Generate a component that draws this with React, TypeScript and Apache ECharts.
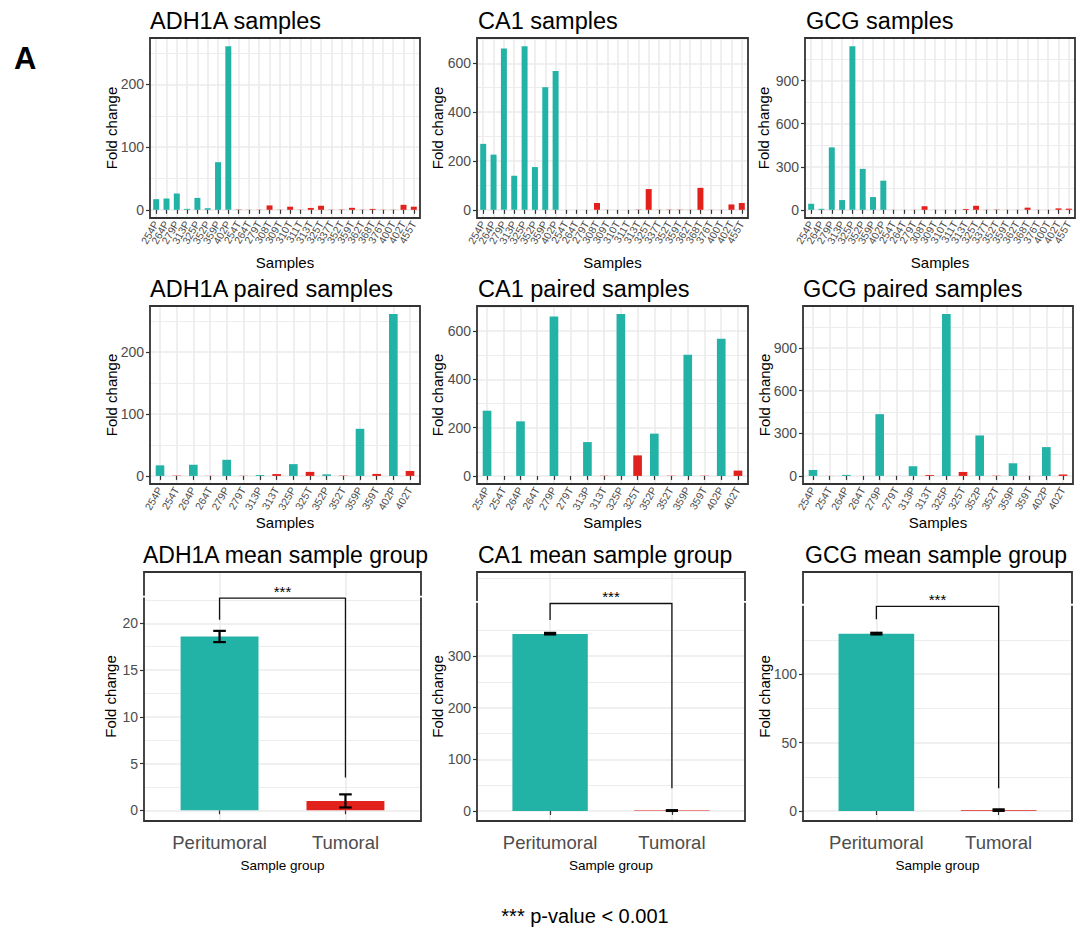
import React, { useEffect, useRef } from "react";
import * as echarts from "echarts";

// ---------- data ----------
const sampleCats = [
  "254P", "264P", "279P", "313P", "325P", "352P", "359P", "402P",
  "254T", "264T", "279T", "308T", "309T", "310T", "311T", "313T", "325T",
  "337T", "352T", "359T", "362T", "368T", "376T", "400T", "402T", "455T",
];
const adh1aSamples = [17, 18, 26, 1.5, 19, 2.5, 76, 261, 0.5, 0.2, 0.3, 7, 0.3, 5, 0.3, 3, 6.5, 0.3, 0.5, 3.2, 0.3, 1.5, 0.3, 0.3, 8, 5];
const ca1Samples = [270, 226, 660, 140, 670, 175, 502, 568, 0, 0, 0, 28, 0.5, 0, 0, 1, 85, 0.5, 1, 1, 0.5, 90, 0.5, 0.3, 22, 28];
const gcgSamples = [42, 7, 435, 68, 1140, 285, 89, 203, 0.5, 0.3, 0.5, 25, 0.5, 0.5, 0.3, 6, 28, 1, 2, 0.5, 0.5, 15, 0.5, 0.5, 10, 8];

const pairedCats = [
  "254P", "254T", "264P", "264T", "279P", "279T", "313P", "313T",
  "325P", "325T", "352P", "352T", "359P", "359T", "402P", "402T",
];

const groupCats = ["Peritumoral", "Tumoral"];
const adh1aMean = [18.6, 1.0];
const adh1aLow = [18.0, 0.3];
const adh1aHigh = [19.2, 1.7];
const ca1Mean = [343, 0.8];
const ca1Low = [342, 0];
const ca1High = [345, 1.5];
const gcgMean = [129.5, 0.6];
const gcgLow = [129, 0.1];
const gcgHigh = [130.2, 1.2];

// bracket: [left leg bottom, bar height, right leg bottom]
const adh1aBracket = [20.4, 22.7, 3.5];
const ca1Bracket = [370, 402, 44];
const gcgBracket = [140, 149.5, 16.6];
const signifText = "***";

// y-axis ticks
const adh1aTicks = [0, 100, 200];
const adh1aMinor = [50, 150, 250];
const ca1Ticks = [0, 200, 400, 600];
const ca1Minor = [100, 300, 500, 700];
const gcgTicks = [0, 300, 600, 900];
const gcgMinor = [150, 450, 750, 1050];
const adh1aMeanTicks = [0, 5, 10, 15, 20];
const adh1aMeanMinor = [2.5, 7.5, 12.5, 17.5, 22.5];
const ca1MeanTicks = [0, 100, 200, 300];
const ca1MeanMinor = [50, 150, 250, 350, 450];
const gcgMeanTicks = [0, 50, 100];
const gcgMeanMinor = [25, 75, 125];
const adh1aMeanRange = [-1.15, 25.5];
const ca1MeanRange = [-19.5, 463];
const gcgMeanRange = [-7.3, 174.6];

const footnote = "*** p-value < 0.001";
const panelLetter = "A";

// ---------- styles ----------
const FONT = "'Liberation Sans', Arial, Helvetica, sans-serif";
const TEAL = "#22B2A6";
const RED = "#E3211C";
const GRID = "#EBEBEB";
const AXIS = "#333333";
const LABEL = "#4D4D4D";

const lookup = (vals: number[], name: string) => vals[sampleCats.indexOf(name)];

type Panel = {
  title: string;
  cats: string[];
  values: number[];
  colors: string[];
  majors: number[];
  minors: number[];
  yMin: number;
  yMax: number;
  left: number;
  top: number;
  width: number;
  height: number;
  nameCx: number;
  titleLeft: number;
  titleTop: number;
  titleSize: number;
  xName: string;
  xNameGap: number;
  xNameSize: number;
  rot: number;
  xLabelSize: number;
  xLabelMargin: number;
  barFrac: number;
  low?: number[];
  high?: number[];
  bracket?: number[];
};

function samplePanel(title: string, cats: string[], values: number[], majors: number[], minors: number[], lay: any): Panel {
  const mx = Math.max(...values);
  return {
    title, cats, values,
    colors: cats.map((c) => (c.endsWith("P") ? TEAL : RED)),
    majors, minors,
    yMin: -0.05 * mx, yMax: 1.05 * mx,
    xName: "Samples", rot: 60, xLabelSize: 10.5, xLabelMargin: 4, xNameSize: 15,
    titleSize: 23.5,
    ...lay,
  };
}

function meanPanel(title: string, values: number[], low: number[], high: number[], bracket: number[], majors: number[], minors: number[], range: number[], lay: any): Panel {
  return {
    title, cats: groupCats, values, low, high, bracket,
    colors: [TEAL, RED],
    majors, minors, yMin: range[0], yMax: range[1],
    xName: "Sample group", xNameGap: 37.5, xNameSize: 13.5,
    rot: 0, xLabelSize: 18.5, xLabelMargin: 12, barFrac: 0.9,
    titleSize: 23,
    ...lay,
  };
}

const panels: Panel[] = [
  samplePanel("ADH1A samples", sampleCats, adh1aSamples, adh1aTicks, adh1aMinor,
    { left: 150, top: 38, width: 270, height: 180, nameCx: 111, titleLeft: 150, titleTop: 9, xNameGap: 36.5, barFrac: 0.6 }),
  samplePanel("CA1 samples", sampleCats, ca1Samples, ca1Ticks, ca1Minor,
    { left: 477, top: 38, width: 271, height: 180, nameCx: 437, titleLeft: 478, titleTop: 9, xNameGap: 36.5, barFrac: 0.6 }),
  samplePanel("GCG samples", sampleCats, gcgSamples, gcgTicks, gcgMinor,
    { left: 805, top: 38, width: 270, height: 180, nameCx: 763, titleLeft: 806, titleTop: 9, xNameGap: 36.5, barFrac: 0.6 }),
  samplePanel("ADH1A paired samples", pairedCats, pairedCats.map((c) => lookup(adh1aSamples, c)), adh1aTicks, adh1aMinor,
    { left: 150, top: 306, width: 270, height: 178, nameCx: 111, titleLeft: 150, titleTop: 277, xNameGap: 30.5, barFrac: 0.55 }),
  samplePanel("CA1 paired samples", pairedCats, pairedCats.map((c) => lookup(ca1Samples, c)), ca1Ticks, ca1Minor,
    { left: 477, top: 306, width: 271, height: 178, nameCx: 437.5, titleLeft: 478, titleTop: 277, xNameGap: 30.5, barFrac: 0.55 }),
  samplePanel("GCG paired samples", pairedCats, pairedCats.map((c) => lookup(gcgSamples, c)), gcgTicks, gcgMinor,
    { left: 803, top: 306, width: 270, height: 178, nameCx: 764, titleLeft: 803, titleTop: 277, xNameGap: 30.5, barFrac: 0.55 }),
  meanPanel("ADH1A mean sample group", adh1aMean, adh1aLow, adh1aHigh, adh1aBracket, adh1aMeanTicks, adh1aMeanMinor, adh1aMeanRange,
    { left: 144, top: 572, width: 277, height: 249, nameCx: 110, titleLeft: 143, titleTop: 543 }),
  meanPanel("CA1 mean sample group", ca1Mean, ca1Low, ca1High, ca1Bracket, ca1MeanTicks, ca1MeanMinor, ca1MeanRange,
    { left: 477, top: 572, width: 268, height: 249, nameCx: 437.5, titleLeft: 478, titleTop: 543 }),
  meanPanel("GCG mean sample group", gcgMean, gcgLow, gcgHigh, gcgBracket, gcgMeanTicks, gcgMeanMinor, gcgMeanRange,
    { left: 803, top: 572, width: 269, height: 249, nameCx: 764, titleLeft: 805, titleTop: 543 }),
];

function buildOption() {
  const grid: any[] = [];
  const xAxis: any[] = [];
  const yAxis: any[] = [];
  const series: any[] = [];
  const title: any[] = [];

  panels.forEach((p, i) => {
    const n = p.cats.length;
    const pos = p.cats.map((_, k) => k + 1);
    const odd = pos.filter((v) => v % 2 === 1);
    const even = pos.filter((v) => v % 2 === 0);
    const split = n > 2;
    const labelStyle = {
      hideOverlap: false,
      showMinLabel: true,
      showMaxLabel: true,
      formatter: (v: number) => p.cats[Math.round(v) - 1] ?? "",
      rotate: p.rot, fontSize: p.xLabelSize, color: LABEL, margin: p.xLabelMargin, fontFamily: FONT,
    };
    grid.push({
      left: p.left, top: p.top, width: p.width, height: p.height,
      show: false, containLabel: false, outerBoundsMode: "none",
    });
    title.push({
      text: p.title, left: p.titleLeft, top: p.titleTop, padding: 0,
      textStyle: { fontSize: p.titleSize, fontWeight: "normal", color: "#000", fontFamily: FONT },
    });
    // main x axis: ticks at every category, labels at odd positions (or all)
    xAxis.push({
      type: "value", gridIndex: i, min: 0.4, max: n + 0.6, position: "bottom",
      axisLine: { show: false },
      axisTick: { show: true, customValues: pos, length: 4, lineStyle: { color: AXIS, width: 1.2 } },
      axisLabel: { ...labelStyle, customValues: split ? odd : pos },
      splitLine: { show: true, lineStyle: { color: GRID, width: 1.6 } },
      name: p.xName, nameLocation: "middle", nameGap: p.xNameGap, nameMoveOverlap: false,
      nameTextStyle: { fontSize: p.xNameSize, color: "#000", fontFamily: FONT },
    });
    // secondary x axis: labels at even positions only
    xAxis.push({
      type: "value", gridIndex: i, min: 0.4, max: n + 0.6, position: "bottom", offset: 0,
      show: split,
      axisLine: { show: false },
      axisTick: { show: false, customValues: split ? even : pos },
      axisLabel: { ...labelStyle, show: split, customValues: split ? even : pos },
      splitLine: { show: false },
    });
    yAxis.push({
      type: "value", gridIndex: i, min: p.yMin, max: p.yMax, position: "left",
      axisLine: { show: false },
      axisTick: { show: true, customValues: p.majors, length: 4, lineStyle: { color: AXIS, width: 1.2 } },
      axisLabel: { customValues: p.majors, hideOverlap: false, showMinLabel: true, showMaxLabel: true, color: LABEL, fontSize: 14, margin: 6, fontFamily: FONT },
      splitLine: { show: true, lineStyle: { color: GRID, width: 1.6 } },
      name: "Fold change", nameLocation: "middle", nameGap: p.left - p.nameCx - 7.5, nameMoveOverlap: false,
      nameTextStyle: { fontSize: 15, color: "#000", fontFamily: FONT },
    });
    yAxis.push({
      type: "value", gridIndex: i, min: p.yMin, max: p.yMax, position: "left",
      axisLine: { show: false },
      axisTick: { show: false, customValues: p.minors },
      axisLabel: { show: false, customValues: p.minors },
      splitLine: { show: true, lineStyle: { color: GRID, width: 0.9 } },
    });

    const xi = 2 * i;
    const yi = 2 * i;
    const barWidth = (p.barFrac * p.width) / (n + 1.2);
    series.push({
      type: "bar", xAxisIndex: xi, yAxisIndex: yi, z: 3, barWidth, silent: true,
      data: p.values.map((v, k) => ({ value: [k + 1, v], itemStyle: { color: p.colors[k] } })),
    });

    if (p.low && p.high) {
      const low = p.low, high = p.high;
      series.push({
        type: "custom", xAxisIndex: xi, yAxisIndex: yi, z: 5, silent: true,
        data: p.cats.map((_, k) => [k + 1, low[k], high[k]]),
        encode: { x: 0, y: [1, 2] },
        renderItem: (_params: any, api: any) => {
          const x = api.value(0), lo = api.value(1), hi = api.value(2);
          const a = api.coord([x, lo]);
          const b = api.coord([x, hi]);
          const hw = api.coord([x + 0.05, lo])[0] - a[0];
          const st = { stroke: "#000", lineWidth: 2.2 };
          return {
            type: "group",
            children: [
              { type: "line", shape: { x1: a[0], y1: a[1], x2: b[0], y2: b[1] }, style: st },
              { type: "line", shape: { x1: a[0] - hw, y1: a[1], x2: a[0] + hw, y2: a[1] }, style: st },
              { type: "line", shape: { x1: b[0] - hw, y1: b[1], x2: b[0] + hw, y2: b[1] }, style: st },
            ],
          };
        },
      });
    }

    // panel border drawn above grid lines and bars
    series.push({
      type: "custom", xAxisIndex: xi, yAxisIndex: yi, z: 7, silent: true,
      data: [[1, p.yMin]],
      renderItem: (params: any) => {
        const cs = params.coordSys;
        return {
          type: "rect",
          shape: { x: cs.x, y: cs.y, width: cs.width, height: cs.height },
          style: { stroke: AXIS, lineWidth: 1.8, fill: null },
        };
      },
    });

    if (p.bracket) {
      const br = p.bracket;
      series.push({
        type: "custom", xAxisIndex: xi, yAxisIndex: yi, z: 8, silent: true,
        data: [[1, 2, br[0], br[1], br[2]]],
        encode: { x: [0, 1], y: [2, 3, 4] },
        renderItem: (params: any, api: any) => {
          const cs = params.coordSys;
          const x1 = api.value(0), x2 = api.value(1);
          const pl = api.coord([x1, api.value(2)]);
          const ptl = api.coord([x1, api.value(3)]);
          const ptr = api.coord([x2, api.value(3)]);
          const pr = api.coord([x2, api.value(4)]);
          return {
            type: "group",
            children: [
              { type: "line", shape: { x1: cs.x - 3, y1: ptl[1] - 1.6, x2: cs.x + cs.width + 6, y2: ptl[1] - 1.6 }, style: { stroke: "#ffffff", lineWidth: 1.8 } },
              { type: "polyline", shape: { points: [pl, ptl, ptr, pr] }, style: { stroke: "#111", lineWidth: 1.3, fill: null } },
              { type: "text", style: { text: signifText, x: (ptl[0] + ptr[0]) / 2, y: ptl[1] - 7, align: "center", verticalAlign: "middle", fontSize: 15, fontFamily: FONT, fill: "#000" } },
            ],
          };
        },
      });
    }
  });

  return {
    animation: false,
    backgroundColor: "#ffffff",
    title,
    grid,
    xAxis,
    yAxis,
    series,
    graphic: [
      { type: "text", style: { text: panelLetter, x: 14, y: 58, align: "left", verticalAlign: "middle", fontSize: 31, fontWeight: "bold", fontFamily: FONT, fill: "#000" } },
      { type: "text", style: { text: footnote, x: 585, y: 916, align: "center", verticalAlign: "middle", fontSize: 20, fontFamily: FONT, fill: "#000" } },
    ],
  };
}

export default function App() {
  const ref = useRef<HTMLDivElement>(null);
  useEffect(() => {
    document.body.style.margin = "0";
    if (!ref.current) return;
    const chart = echarts.init(ref.current, null, { renderer: "svg" });
    chart.setOption(buildOption() as any);
    return () => chart.dispose();
  }, []);
  return <div ref={ref} style={{ width: 1078, height: 934 }} />;
}
